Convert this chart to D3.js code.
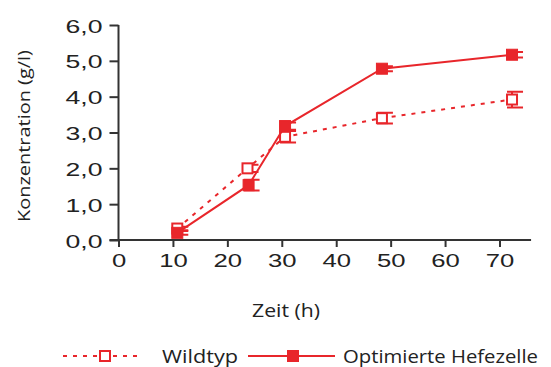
<!DOCTYPE html>
<html>
<head>
<meta charset="utf-8">
<script src="https://cdn.jsdelivr.net/npm/d3@7"></script>
<style>
  body { margin: 0; background: #fff; }
  svg { display: block; }
  .tick text { font-family: 'Liberation Sans', Arial, sans-serif; fill: #222; }
  .title { font-family: 'Open Sans', 'Noto Sans', sans-serif; fill: #222; }
</style>
</head>
<body>
<div id="chart"></div>
<script>
const WIDTH = 551;
const HEIGHT = 367;
const RED = '#e8262b';
const AXIS = '#333';

// Zeit (h) und Konzentration (g/l)
const wildTime = [10.8, 23.7, 30.6, 48.4, 72.3];
const wildConc = [0.32, 2.0, 2.88, 3.4, 3.92];
const wildErr = [0.05, 0.1, 0.16, 0.15, 0.22];

const optTime = [10.8, 23.9, 30.6, 48.4, 72.3];
const optConc = [0.2, 1.53, 3.18, 4.78, 5.17];
const optErr = [0.05, 0.15, 0.1, 0.07, 0.08];

const xTicks = [0, 10, 20, 30, 40, 50, 60, 70];
const yTicks = [0, 1, 2, 3, 4, 5, 6];

const xLabel = 'Zeit (h)';
const yLabel = 'Konzentration (g/l)';
const legendNames = ['Wildtyp', 'Optimierte Hefezelle'];

const xScale = d3.scaleLinear().domain([0, 70]).range([118.5, 499.5]);
const yScale = d3.scaleLinear().domain([0, 6]).range([240, 25]);

const svg = d3.select('#chart').append('svg')
  .attr('width', WIDTH)
  .attr('height', HEIGHT);

const fmt = d => d.toFixed(1).replace('.', ',');

// Text in der Breite strecken (Vorlage ist horizontal etwas gezogen)
function stretch(sel, k) {
  sel.each(function () {
    const w = this.getComputedTextLength();
    d3.select(this)
      .attr('textLength', w * k)
      .attr('lengthAdjust', 'spacingAndGlyphs');
  });
}
function fitTo(sel, w) {
  sel.attr('textLength', w).attr('lengthAdjust', 'spacingAndGlyphs');
}

// y-Achse
const yAxis = svg.append('g')
  .attr('transform', `translate(${xScale(0)},0)`)
  .call(d3.axisLeft(yScale).tickValues(yTicks).tickFormat(fmt).tickSize(9).tickPadding(7));
yAxis.select('.domain').attr('d', `M0,${yScale(6)}V${yScale(0)}`);

// x-Achse
const xAxis = svg.append('g')
  .attr('transform', `translate(0,${yScale(0)})`)
  .call(d3.axisBottom(xScale).tickValues(xTicks).tickSize(7).tickPadding(20));
xAxis.select('.domain').attr('d', `M${xScale(0) - 9},0H${xScale(75.8)}`);

svg.selectAll('.domain, .tick line').attr('stroke', AXIS).attr('stroke-width', 2);
yAxis.selectAll('.tick text').attr('font-size', 19).attr('dy', '0.37em').call(stretch, 1.4);
xAxis.selectAll('.tick text').attr('font-size', 19).attr('dy', '0').call(stretch, 1.35);

// Achsentitel
svg.append('text')
  .attr('class', 'title')
  .attr('transform', 'translate(30,136) rotate(-90)')
  .attr('text-anchor', 'middle')
  .attr('font-size', 17)
  .text(yLabel)
  .call(fitTo, 172);

svg.append('text')
  .attr('class', 'title')
  .attr('x', 286)
  .attr('y', 317)
  .attr('text-anchor', 'middle')
  .attr('font-size', 18)
  .text(xLabel)
  .call(fitTo, 68);

function drawSeries(times, conc, err, dashed, filled) {
  const pts = times.map((t, i) => ({ t: t, v: conc[i], e: err[i] }));
  const line = d3.line().x(d => xScale(d.t)).y(d => yScale(d.v));
  const g = svg.append('g');

  g.append('path')
    .datum(pts)
    .attr('d', line)
    .attr('fill', 'none')
    .attr('stroke', RED)
    .attr('stroke-width', 2)
    .attr('stroke-dasharray', dashed ? '4,6' : null);

  // Fehlerbalken
  pts.forEach(d => {
    const x = xScale(d.t);
    const y0 = yScale(d.v - d.e);
    const y1 = yScale(d.v + d.e);
    g.append('path')
      .attr('d', `M${x},${y0}V${y1}M${x - 5},${y0}H${x + 11}M${x - 5},${y1}H${x + 11}`)
      .attr('fill', 'none')
      .attr('stroke', RED)
      .attr('stroke-width', 2);
  });

  const s = filled ? 11 : 10;
  g.selectAll('rect.marker')
    .data(pts)
    .enter()
    .append('rect')
    .attr('class', 'marker')
    .attr('x', d => xScale(d.t) - s / 2)
    .attr('y', d => yScale(d.v) - s / 2)
    .attr('width', s)
    .attr('height', s)
    .attr('fill', filled ? RED : '#fff')
    .attr('stroke', RED)
    .attr('stroke-width', filled ? 1 : 2);
}

drawSeries(wildTime, wildConc, wildErr, true, false);
drawSeries(optTime, optConc, optErr, false, true);

// Legende
const legend = svg.append('g');
legend.append('line')
  .attr('x1', 63).attr('x2', 142).attr('y1', 356).attr('y2', 356)
  .attr('stroke', RED).attr('stroke-width', 2).attr('stroke-dasharray', '4,6');
legend.append('rect')
  .attr('x', 100).attr('y', 351).attr('width', 10).attr('height', 10)
  .attr('fill', '#fff').attr('stroke', RED).attr('stroke-width', 2);
legend.append('text')
  .attr('class', 'title')
  .attr('x', 162).attr('y', 363)
  .attr('font-size', 18)
  .text(legendNames[0])
  .call(fitTo, 76);

legend.append('line')
  .attr('x1', 248).attr('x2', 335).attr('y1', 356).attr('y2', 356)
  .attr('stroke', RED).attr('stroke-width', 2);
legend.append('rect')
  .attr('x', 287).attr('y', 350).attr('width', 12).attr('height', 12)
  .attr('fill', RED);
legend.append('text')
  .attr('class', 'title')
  .attr('x', 343).attr('y', 363)
  .attr('font-size', 18)
  .text(legendNames[1])
  .call(fitTo, 195);
</script>
</body>
</html>
